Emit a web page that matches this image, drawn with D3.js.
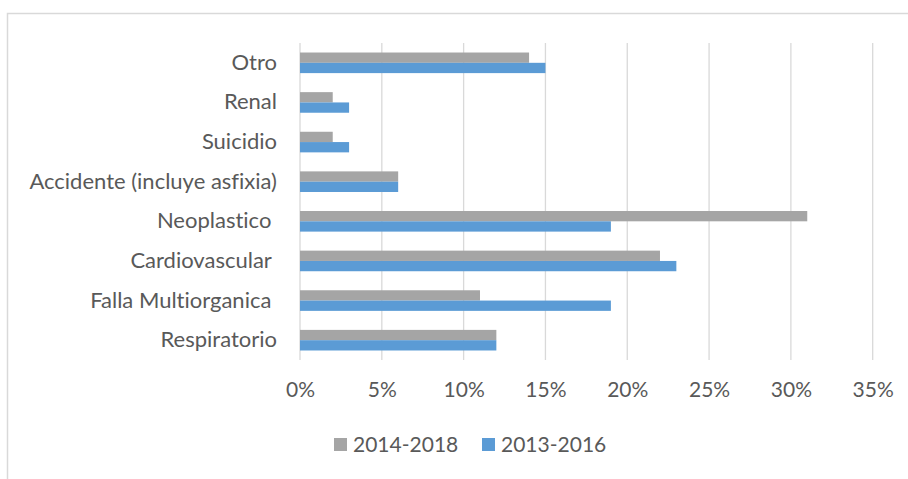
<!DOCTYPE html>
<html><head><meta charset="utf-8">
<script src="https://cdn.jsdelivr.net/npm/d3@7"></script>
<style>html,body{margin:0;padding:0;background:#fff;}svg{display:block;}text{font-variant-ligatures:none;white-space:pre;}</style>
</head><body>
<svg id="chart" width="908" height="479"></svg>
<script>
const categories = ["Otro","Renal","Suicidio","Accidente (incluye asfixia)","Neoplastico ","Cardiovascular ","Falla Multiorganica ","Respiratorio"];
const seriesNames = ["2014-2018","2013-2016"];
const values2014_2018 = [14,2,2,6,31,22,11,12];
const values2013_2016 = [15,3,3,6,19,23,19,12];
const tickValues = [0,5,10,15,20,25,30,35];
const colors = ["#a5a5a5","#5b9bd5"];

const svg = d3.select("#chart");
const font = "Lato, 'Open Sans', sans-serif";
// outer border
svg.append("rect").attr("x",7.5).attr("y",13.5).attr("width",920).attr("height",500)
  .attr("fill","none").attr("stroke","#d9d9d9").attr("stroke-width",1.5);

const x = d3.scaleLinear().domain([0,35]).range([300,872.7]);
const y = d3.scaleBand().domain(categories).range([43,360]).paddingInner(0.48).paddingOuter(0.24);
const ySub = d3.scaleBand().domain(seriesNames).range([0,y.bandwidth()]);

// gridlines
svg.append("g").selectAll("line").data(tickValues).join("line")
  .attr("x1",d=>x(d)).attr("x2",d=>x(d)).attr("y1",43).attr("y2",360)
  .attr("stroke","#d9d9d9").attr("stroke-width",1.3);

const data = categories.map((c,i)=>({cat:c, vals:[values2014_2018[i], values2013_2016[i]]}));
const g = svg.append("g").selectAll("g").data(data).join("g")
  .attr("transform",d=>`translate(0,${y(d.cat)})`);
g.selectAll("rect").data(d=>d.vals.map((v,j)=>({v,s:seriesNames[j],c:colors[j]}))).join("rect")
  .attr("x",x(0)).attr("y",d=>ySub(d.s)).attr("width",d=>x(d.v)-x(0)).attr("height",ySub.bandwidth())
  .attr("fill",d=>d.c);

// category axis
const yAxis = d3.axisLeft(y).tickSize(0).tickPadding(23);
const ya = svg.append("g").attr("transform","translate(300,0)").call(yAxis);
ya.select(".domain").remove();
ya.selectAll("text").attr("font-family",font).attr("font-size",22).attr("fill","#595959");

// value axis
const xAxis = d3.axisBottom(x).tickValues(tickValues).tickFormat(d=>d+"%").tickSize(0).tickPadding(22);
const xa = svg.append("g").attr("transform","translate(0,360)").call(xAxis);
xa.select(".domain").remove();
xa.selectAll("text").attr("font-family",font).attr("font-size",21).attr("fill","#595959");

// legend
const legendX = [334,482];
const lg = svg.append("g").selectAll("g").data(seriesNames).join("g")
  .attr("transform",(d,i)=>`translate(${legendX[i]},438)`);
lg.append("rect").attr("width",13).attr("height",13).attr("fill",(d,i)=>colors[i]);
lg.append("text").attr("x",19).attr("y",6.5).attr("dy","0.35em").text(d=>d)
  .attr("font-family",font).attr("font-size",21).attr("fill","#595959");
</script>
</body></html>
